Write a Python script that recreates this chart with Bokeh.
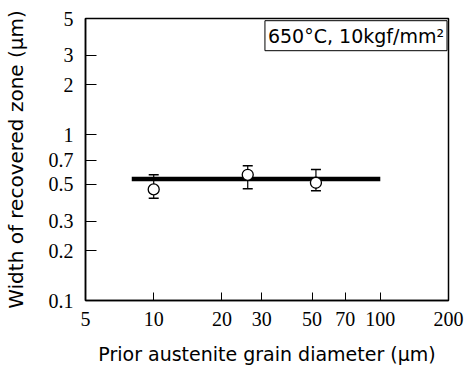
from bokeh.plotting import figure
from bokeh.models import FixedTicker, Label
from bokeh.embed import file_html
from bokeh.resources import INLINE

# Grain size dependence of recovered zone width (650°C, 10 kgf/mm²)
grain_diameter = [10, 26, 52]            # μm
zone_width = [0.467, 0.572, 0.512]       # μm
zone_width_hi = [0.572, 0.648, 0.615]
zone_width_lo = [0.413, 0.471, 0.458]

fit_x = [8, 100]
fit_y = [0.54, 0.54]

x_ticks = [5, 10, 20, 30, 50, 70, 100, 200]
y_ticks = [0.1, 0.2, 0.3, 0.5, 0.7, 1, 2, 3, 5]
y_tick_labels = ["0.1", "0.2", "0.3", "0.5", "0.7", "1", "2", "3", "5"]

p = figure(width=467, height=368, x_axis_type="log", y_axis_type="log",
           x_range=(5, 200), y_range=(0.1, 5),
           output_backend="svg", toolbar_location=None,
           min_border_left=84, min_border_right=19,
           min_border_top=18, min_border_bottom=68)
p.xgrid.visible = False
p.ygrid.visible = False
p.outline_line_color = "black"
p.outline_line_width = 1.5
p.background_fill_color = "white"
p.border_fill_color = "white"

tick_font = "Liberation Sans Narrow"
title_font = "DejaVu Sans"

for ax in (p.xaxis, p.yaxis):
    ax.axis_line_color = "black"
    ax.axis_line_width = 1.5
    ax.major_tick_in = 8
    ax.major_tick_out = 0
    ax.minor_tick_in = 0
    ax.minor_tick_out = 0
    ax.major_tick_line_color = "black"
    ax.major_label_text_font = tick_font
    ax.major_label_text_font_size = "20px"
    ax.major_label_text_color = "black"
    ax.axis_label_text_font = title_font
    ax.axis_label_text_font_size = "19px"
    ax.axis_label_text_font_style = "normal"
    ax.axis_label_text_color = "black"

p.xaxis.ticker = FixedTicker(ticks=x_ticks)
p.xaxis.major_label_overrides = {t: str(t) for t in x_ticks}
p.xaxis.major_label_standoff = 11
p.xaxis.axis_label = "Prior austenite grain diameter (μm)"
p.xaxis.axis_label_standoff = 14

p.yaxis.ticker = FixedTicker(ticks=y_ticks)
p.yaxis.major_label_overrides = dict(zip(y_ticks, y_tick_labels))
p.yaxis.major_label_standoff = 12
p.yaxis.major_tick_in = 11
p.yaxis.axis_label = "Width of recovered zone (μm)"
p.yaxis.axis_label_text_font_size = "20px"
p.yaxis.axis_label_standoff = 18

# error bars
p.segment(x0=grain_diameter, y0=zone_width_lo, x1=grain_diameter, y1=zone_width_hi,
          line_color="black", line_width=1.2)
p.scatter(x=grain_diameter + grain_diameter, y=zone_width_lo + zone_width_hi,
          marker="dash", size=10, line_color="black", line_width=1.4)

# mean level
p.line(x=fit_x, y=fit_y, line_color="black", line_width=4.5)

# measured points
p.scatter(x=grain_diameter, y=zone_width, marker="circle", size=11,
          fill_color="white", line_color="black", line_width=1.3)

cond = Label(x=197, y=4.85, text="650°C, 10kgf/mm²",
             text_align="right", text_baseline="top",
             text_font="DejaVu Sans", text_font_size="19px", text_color="black",
             border_line_color="black", border_line_width=1,
             background_fill_color="white", padding=(3, 4))
p.add_layout(cond)

open("out.html", "w").write(file_html(p, INLINE))
